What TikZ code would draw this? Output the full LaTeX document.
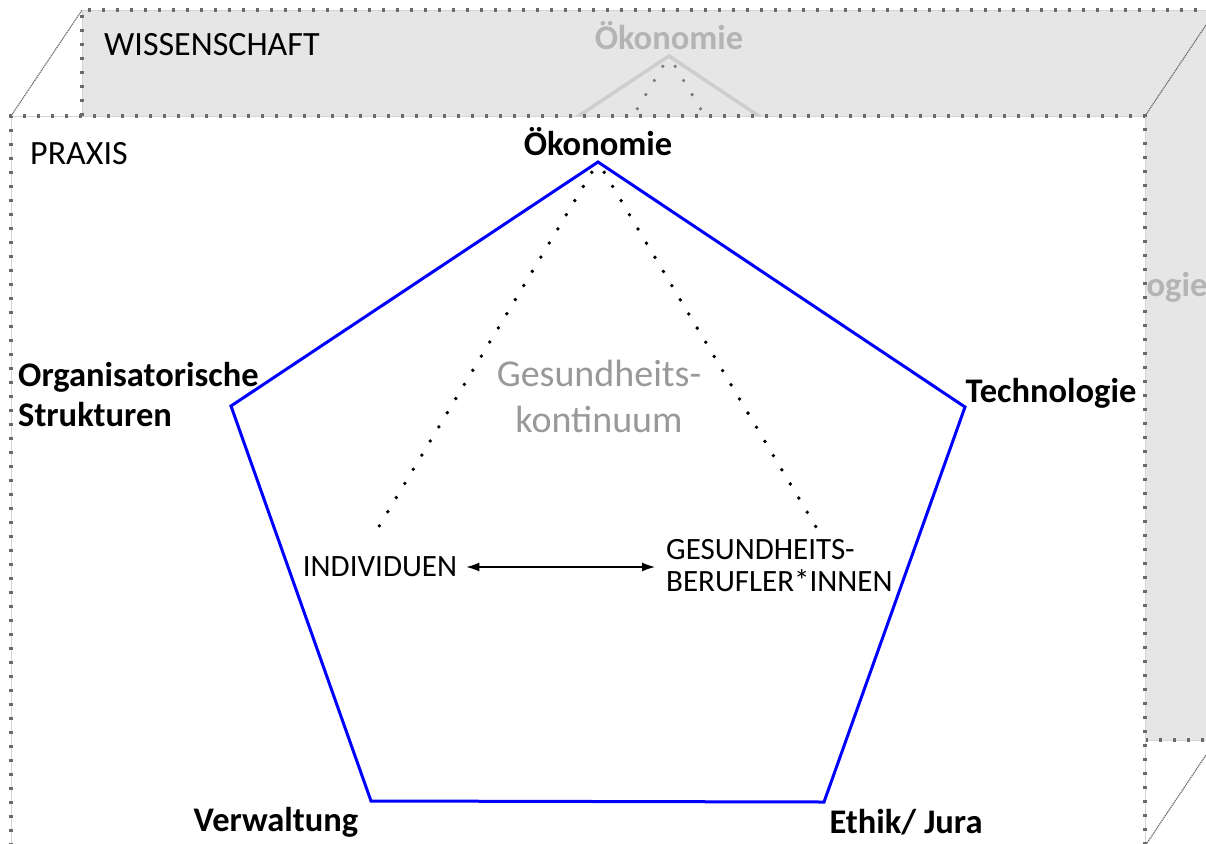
\documentclass[tikz,border=0pt]{standalone}
\usepackage{fontspec}
\setmainfont{Carlito}
\usetikzlibrary{arrows.meta}
\definecolor{backfill}{HTML}{E6E6E6}
\definecolor{dotgray}{HTML}{6A6A6A}
\definecolor{lightline}{HTML}{D4D4D4}
\definecolor{ghost}{HTML}{B4B4B4}
\definecolor{ghostline}{HTML}{CDCDCD}
\definecolor{ghostdot}{HTML}{7A7A7A}
\definecolor{pentblue}{HTML}{0000FF}
\definecolor{textgray}{HTML}{999999}
\begin{document}
\begin{tikzpicture}[x=1pt,y=-1pt,
  faint/.style={draw=lightline, line width=0.8pt},
  borderdots/.style={draw=dotgray, line width=3.2pt, dash pattern=on 3.2pt off 10.8pt},
  diag/.style={draw=dotgray, line width=1.2pt, dash pattern=on 1.2pt off 0.8pt},
  pent/.style={draw=pentblue, line width=3pt, line join=miter},
  ghostpent/.style={draw=ghostline, line width=3.5pt},
  dotline/.style={draw=black, line width=3.8pt, line cap=round, dash pattern=on 0pt off 16.5pt, dash phase=-12pt},
  ghostdotline/.style={draw=ghostdot, line width=3.6pt, line cap=round, dash pattern=on 0pt off 16.5pt, dash phase=-12pt},
  lbl/.style={font=\fontsize{34.5}{40}\selectfont\bfseries, inner sep=0pt},
  ghostlbl/.style={lbl, text=ghost},
  boxlbl/.style={font=\fontsize{34}{38}\selectfont, inner sep=0pt, anchor=west},
  actor/.style={font=\fontsize{31}{32}\selectfont, inner sep=0pt},
  continuum/.style={font=\fontsize{38}{46}\selectfont, text=textgray, align=center, inner sep=0pt},
  twoarrow/.style={draw=black, line width=1.4pt, {Latex[length=13pt,width=9pt]}-{Latex[length=13pt,width=9pt]}}
]
\useasboundingbox (0,0) rectangle (1206,843);
\begin{scope}
\clip (0,0) rectangle (1206,843);
% back box (WISSENSCHAFT)
\fill[backfill] (82,10) rectangle (1216,740);
% ghost content of the back box
\begin{scope}[shift={(71,-106)}]
  \coordinate (gA) at (598,162);
  \coordinate (gB) at (965,407);
  \coordinate (gC) at (824,802);
  \coordinate (gD) at (371,801);
  \coordinate (gE) at (231,406);
  \coordinate (gL) at (372,538);
  \coordinate (gR) at (822,537);
  \draw[ghostpent] (gA) -- (gB) -- (gC) -- (gD) -- (gE) -- cycle;
  \draw[ghostdotline] (gA) -- (gL);
  \draw[ghostdotline] (gA) -- (gR);
  \node[ghostlbl] (gOek) at (598,142) {Ökonomie};
  \node[ghostlbl] (gTech) at (1051,393) {Technologie};
\end{scope}
\draw[faint] (82,116) -- (82,10) -- (1216,10);
\draw[borderdots] (82,116) -- (82,10) -- (1216,10);
\draw[faint] (1145,740) -- (1216,740);
\draw[borderdots] (1145,740) -- (1216,740);
\node[boxlbl] (wiss) at (104,45) {WISSENSCHAFT};
% front box (PRAXIS)
\fill[white] (11,116) rectangle (1145,846);
\draw[faint] (11,846) -- (11,116) -- (1145,116) -- (1145,846);
\draw[borderdots] (11,846) -- (11,116) -- (1145,116) -- (1145,846);
\draw[diag] (11,116) -- (82,10);
\draw[diag] (1145,116) -- (1216,10);
\draw[diag] (1145,846) -- (1216,740);
\node[boxlbl] (praxis) at (30,154) {PRAXIS};
% pentagon
\coordinate (A) at (598,162);
\coordinate (B) at (965,407);
\coordinate (C) at (824,802);
\coordinate (D) at (371,801);
\coordinate (E) at (231,406);
\coordinate (L) at (372,538);
\coordinate (R) at (822,537);
\draw[pent] (A) -- (B) -- (C) -- (D) -- (E) -- cycle;
\draw[dotline] (A) -- (L);
\draw[dotline] (A) -- (R);
% labels
\node[lbl] (oek) at (598,142) {Ökonomie};
\node[lbl] (tech) at (1051,393) {Technologie};
\node[lbl, anchor=west, align=left] (org) at (18,395) {Organisatorische\\Strukturen};
\node[lbl] (verw) at (276,822) {Verwaltung};
\node[lbl] (ethik) at (906,822) {Ethik/ Jura};
\node[continuum] (kont) at (599,396) {Gesundheits-\\kontinuum};
\node[actor] (ind) at (380,567) {INDIVIDUEN};
\node[actor, anchor=west, align=left] (ges) at (666,566) {GESUNDHEITS-\\BERUFLER*INNEN};
\draw[twoarrow] ([xshift=9pt]ind.east) -- ([xshift=-11pt]ind.east -| ges.west);
\end{scope}
\end{tikzpicture}
\end{document}
